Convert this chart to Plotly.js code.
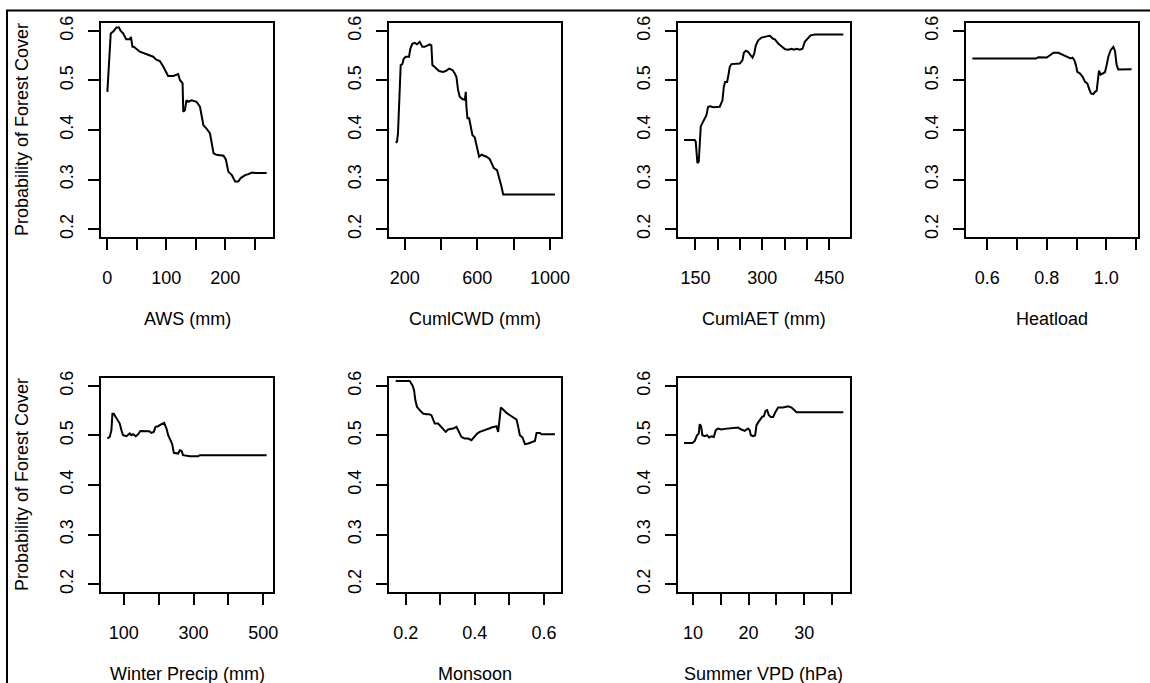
<!DOCTYPE html>
<html>
<head>
<meta charset="utf-8">
<script src="https://cdn.plot.ly/plotly-3.0.1.min.js"></script>
<style>
  html, body { margin: 0; padding: 0; background: #fff; }
  #chart { width: 1150px; height: 683px; }
</style>
</head>
<body>
<div id="chart"></div>
<script>
// Partial dependence of forest cover probability on each predictor
const panelTitles = ["AWS (mm)", "CumlCWD (mm)", "CumlAET (mm)", "Heatload",
                     "Winter Precip (mm)", "Monsoon", "Summer VPD (hPa)"];
const yAxisTitle = "Probability of Forest Cover";

const awsX = [0, 4, 5.7, 10.8, 15.3, 19.8, 22, 26.6, 29.5, 32, 38, 40, 42.5, 44.8, 55, 66, 77.7, 83, 89, 94.7, 100, 103, 111.7, 117, 120, 123, 127.5, 128.7, 131.5, 134, 137, 143, 151, 157, 162.7, 168, 174, 180, 185, 197, 201, 205, 211, 216.5, 222, 226, 233.6, 239, 245, 250.6, 270];
const awsY = [0.477, 0.574, 0.595, 0.600, 0.607, 0.607, 0.601, 0.595, 0.588, 0.583, 0.583, 0.588, 0.568, 0.568, 0.558, 0.553, 0.548, 0.542, 0.539, 0.528, 0.514, 0.509, 0.509, 0.511, 0.513, 0.501, 0.494, 0.437, 0.440, 0.460, 0.457, 0.460, 0.457, 0.447, 0.410, 0.403, 0.393, 0.353, 0.350, 0.348, 0.340, 0.316, 0.309, 0.296, 0.296, 0.303, 0.309, 0.311, 0.314, 0.313, 0.313];

const cwdX = [150.3, 157.7, 163, 172, 178, 187, 194.5, 205.5, 218, 224, 231, 242, 255, 268, 283, 297, 310, 323, 338, 347, 352.6, 360, 374.7, 389, 411, 426, 444.6, 463, 476, 485, 494, 503, 518, 525.5, 531, 536.5, 540, 545.7, 555, 562, 573, 586, 599, 610, 623, 650.6, 669, 678, 691, 709, 720, 733, 742.5, 1027.6];
const cwdY = [0.3745, 0.3765, 0.393, 0.460, 0.531, 0.533, 0.544, 0.548, 0.549, 0.548, 0.564, 0.574, 0.576, 0.573, 0.578, 0.568, 0.568, 0.571, 0.573, 0.571, 0.531, 0.529, 0.524, 0.519, 0.517, 0.519, 0.524, 0.521, 0.514, 0.507, 0.481, 0.467, 0.462, 0.462, 0.460, 0.477, 0.447, 0.4235, 0.4235, 0.407, 0.390, 0.385, 0.366, 0.346, 0.350, 0.346, 0.341, 0.333, 0.323, 0.319, 0.306, 0.286, 0.270, 0.270];

const aetX = [124.6, 148.5, 150.7, 152, 154.5, 157.5, 159.7, 162, 165, 169.5, 174.7, 178.4, 183.7, 189.7, 198.6, 204.6, 210.6, 213.6, 216.6, 221, 224, 227, 230.8, 238.3, 249.5, 255.5, 258.5, 263, 268, 273.5, 278, 281.7, 285.4, 290.7, 298.2, 309.4, 317, 323, 328, 335.6, 343, 350.9, 358, 365.5, 370.7, 376.7, 384, 390, 395, 400.6, 408, 418, 481.4];
const aetY = [0.380, 0.380, 0.3765, 0.353, 0.333, 0.336, 0.366, 0.407, 0.413, 0.420, 0.430, 0.447, 0.448, 0.446, 0.447, 0.447, 0.460, 0.487, 0.497, 0.497, 0.511, 0.5275, 0.533, 0.533, 0.534, 0.541, 0.556, 0.560, 0.558, 0.551, 0.546, 0.554, 0.571, 0.581, 0.5866, 0.589, 0.590, 0.5846, 0.583, 0.5745, 0.568, 0.563, 0.562, 0.564, 0.562, 0.564, 0.562, 0.564, 0.578, 0.583, 0.591, 0.5926, 0.5926];

const heatX = [0.5496, 0.7637, 0.7715, 0.7827, 0.7996, 0.8108, 0.822, 0.8388, 0.85, 0.861, 0.8724, 0.880, 0.887, 0.8926, 0.898, 0.9027, 0.9117, 0.9206, 0.9285, 0.9363, 0.943, 0.9487, 0.9565, 0.962, 0.9677, 0.971, 0.9756, 0.981, 0.988, 0.9957, 1.0013, 1.007, 1.0148, 1.0238, 1.0294, 1.035, 1.0406, 1.0518, 1.0854];
const heatY = [0.5443, 0.5443, 0.5470, 0.5463, 0.5463, 0.551, 0.5557, 0.5557, 0.553, 0.549, 0.5477, 0.5443, 0.546, 0.541, 0.531, 0.5175, 0.514, 0.5074, 0.4973, 0.494, 0.482, 0.474, 0.4725, 0.477, 0.479, 0.500, 0.520, 0.512, 0.5145, 0.5166, 0.531, 0.548, 0.561, 0.5678, 0.5597, 0.531, 0.522, 0.522, 0.5228];

const winterX = [53, 59.8, 64.6, 67.5, 71.3, 77, 83.7, 88.5, 93.3, 98, 107.7, 112.4, 117.2, 122, 126.8, 134.5, 141, 147.8, 160.3, 172.7, 179.4, 186, 191, 198.6, 208, 215.8, 222.5, 227.3, 234, 238.8, 243.6, 251.2, 256, 260.8, 265.6, 270, 289.5, 313.4, 318.2, 509.6];
const winterY = [0.4938, 0.497, 0.5106, 0.544, 0.544, 0.5375, 0.529, 0.524, 0.5106, 0.5005, 0.4985, 0.5005, 0.504, 0.5005, 0.5025, 0.4985, 0.5025, 0.509, 0.509, 0.5086, 0.5052, 0.5072, 0.5173, 0.5187, 0.523, 0.5254, 0.514, 0.5005, 0.4904, 0.4824, 0.4649, 0.4635, 0.4635, 0.4703, 0.469, 0.4602, 0.4582, 0.4582, 0.4602, 0.4602];

const monsoonX = [0.171, 0.2116, 0.2193, 0.2242, 0.228, 0.2329, 0.2406, 0.2502, 0.2599, 0.2676, 0.2744, 0.2792, 0.284, 0.2937, 0.3005, 0.3082, 0.316, 0.3227, 0.3372, 0.3469, 0.3517, 0.3614, 0.371, 0.3807, 0.3903, 0.398, 0.4068, 0.4145, 0.4242, 0.4338, 0.4415, 0.4483, 0.458, 0.4628, 0.4676, 0.4705, 0.4754, 0.4821, 0.4918, 0.5063, 0.5208, 0.5256, 0.5304, 0.5382, 0.545, 0.5546, 0.5672, 0.574, 0.5787, 0.5884, 0.5932, 0.6319];
const monsoonY = [0.610, 0.610, 0.6013, 0.5913, 0.571, 0.5576, 0.551, 0.5442, 0.5429, 0.5429, 0.541, 0.5308, 0.524, 0.524, 0.5187, 0.514, 0.5072, 0.512, 0.514, 0.5173, 0.5106, 0.4971, 0.4938, 0.4938, 0.4904, 0.4971, 0.5039, 0.5072, 0.5092, 0.512, 0.514, 0.516, 0.5173, 0.5187, 0.5072, 0.5308, 0.5563, 0.5523, 0.5455, 0.5388, 0.5321, 0.5173, 0.5005, 0.4958, 0.4824, 0.4837, 0.4871, 0.489, 0.5052, 0.5052, 0.5025, 0.5025];

const vpdX = [8.38, 9.88, 10.3, 10.72, 11.02, 11.2, 11.44, 11.68, 12.1, 12.52, 12.88, 13.3, 13.73, 14.09, 14.5, 15.1, 15.71, 16.61, 17.51, 18.1, 18.7, 19.3, 19.9, 20.2, 20.4, 20.82, 21.18, 21.42, 21.78, 22.14, 22.44, 22.74, 23.04, 23.34, 23.64, 24.0, 24.42, 24.84, 25.31, 26.22, 27.13, 27.73, 28.15, 28.63, 37.05];
const vpdY = [0.485, 0.485, 0.489, 0.5005, 0.5039, 0.5227, 0.5187, 0.5005, 0.4985, 0.5005, 0.4958, 0.4985, 0.4971, 0.5106, 0.514, 0.512, 0.5133, 0.514, 0.516, 0.516, 0.512, 0.5092, 0.514, 0.5106, 0.5005, 0.4985, 0.5005, 0.5207, 0.5274, 0.5321, 0.5375, 0.5388, 0.5496, 0.551, 0.5409, 0.5375, 0.5375, 0.5476, 0.5563, 0.5563, 0.559, 0.5563, 0.551, 0.5469, 0.5469];

// x tick positions (every minor step) and labels (only every other one is printed)
const xTickVals = [
  [0, 50, 100, 150, 200, 250],
  [200, 400, 600, 800, 1000],
  [150, 200, 250, 300, 350, 400, 450],
  [0.6, 0.7, 0.8, 0.9, 1.0, 1.1],
  [100, 200, 300, 400, 500],
  [0.2, 0.3, 0.4, 0.5, 0.6],
  [10, 15, 20, 25, 30, 35]
];
const xTickText = [
  ["0", "", "100", "", "200", ""],
  ["200", "", "600", "", "1000"],
  ["150", "", "", "300", "", "", "450"],
  ["0.6", "", "0.8", "", "1.0", ""],
  ["100", "", "300", "", "500"],
  ["0.2", "", "0.4", "", "0.6"],
  ["10", "", "20", "", "30", ""]
];
const yTickVals = [0.2, 0.3, 0.4, 0.5, 0.6];
const yTickText = ["0.2", "0.3", "0.4", "0.5", "0.6"];
const yLimits = [0.2, 0.6];

const seriesX = [awsX, cwdX, aetX, heatX, winterX, monsoonX, vpdX];
const seriesY = [awsY, cwdY, aetY, heatY, winterY, monsoonY, vpdY];

// ---- page geometry (pixels) ----
const W = 1150, H = 683;
const colLeft = [101, 389.3, 677.7, 966];
const boxW = 172;
const rowTop = [23, 378];
const boxH = 214;
const FONT = "Liberation Sans, Arial, sans-serif";
const FS = 18;

// extend a range by 4% on each side
function padRange(lo, hi) {
  const d = hi - lo;
  return [lo - 0.04 * d, hi + 0.04 * d];
}

const traces = [];
const layout = {
  width: W, height: H,
  margin: {l: 0, r: 0, t: 0, b: 0},
  paper_bgcolor: "#ffffff",
  plot_bgcolor: "#ffffff",
  showlegend: false,
  font: {family: FONT, size: FS, color: "#000"},
  annotations: [],
  shapes: [
    // surrounding figure frame
    {type: "line", xref: "paper", yref: "paper", x0: 6 / W, x1: 1, y0: 1 - 10.5 / H, y1: 1 - 10.5 / H,
     line: {color: "#000", width: 2}},
    {type: "line", xref: "paper", yref: "paper", x0: 7 / W, x1: 7 / W, y0: 1 - 10 / H, y1: 0,
     line: {color: "#000", width: 2}}
  ]
};

for (let i = 0; i < 7; i++) {
  const row = i < 4 ? 0 : 1;
  const col = i < 4 ? i : i - 4;
  const n = i + 1;
  const xa = "x" + (n === 1 ? "" : n);
  const ya = "y" + (n === 1 ? "" : n);
  const left = colLeft[col], top = rowTop[row];
  const xs = seriesX[i];

  traces.push({
    type: "scatter", mode: "lines",
    x: xs, y: seriesY[i],
    xaxis: xa, yaxis: ya,
    line: {color: "#000", width: 2},
    hoverinfo: "skip"
  });

  const axisCommon = {
    showgrid: false, zeroline: false,
    showline: true, mirror: true, linecolor: "#000", linewidth: 2,
    ticks: "outside", ticklen: 11, tickwidth: 2, tickcolor: "#000",
    tickfont: {family: FONT, size: FS, color: "#000"},
    tickmode: "array", fixedrange: true
  };

  layout["xaxis" + (n === 1 ? "" : n)] = Object.assign({}, axisCommon, {
    domain: [left / W, (left + boxW) / W],
    anchor: ya,
    range: padRange(Math.min(...xs), Math.max(...xs)),
    tickvals: xTickVals[i], ticktext: xTickText[i],
    ticklabelstandoff: 12
  });
  layout["yaxis" + (n === 1 ? "" : n)] = Object.assign({}, axisCommon, {
    domain: [1 - (top + boxH) / H, 1 - top / H],
    anchor: xa,
    range: padRange(yLimits[0], yLimits[1]),
    tickvals: yTickVals, ticktext: yTickText,
    tickangle: -90,
    ticklabelstandoff: 8
  });

  // x-axis label under each panel
  layout.annotations.push({
    xref: "paper", yref: "paper",
    x: (left + boxW / 2) / W, y: 1 - (top + boxH + 82) / H,
    xanchor: "center", yanchor: "middle",
    text: panelTitles[i], showarrow: false,
    font: {family: FONT, size: FS, color: "#000"}
  });

  // y-axis label on the left column only
  if (col === 0) {
    layout.annotations.push({
      xref: "paper", yref: "paper",
      x: 22 / W, y: 1 - (top + boxH / 2) / H,
      xanchor: "center", yanchor: "middle",
      text: yAxisTitle, textangle: -90, showarrow: false,
      font: {family: FONT, size: FS, color: "#000"}
    });
  }
}

Plotly.newPlot("chart", traces, layout, {staticPlot: true, displayModeBar: false});
</script>
</body>
</html>
